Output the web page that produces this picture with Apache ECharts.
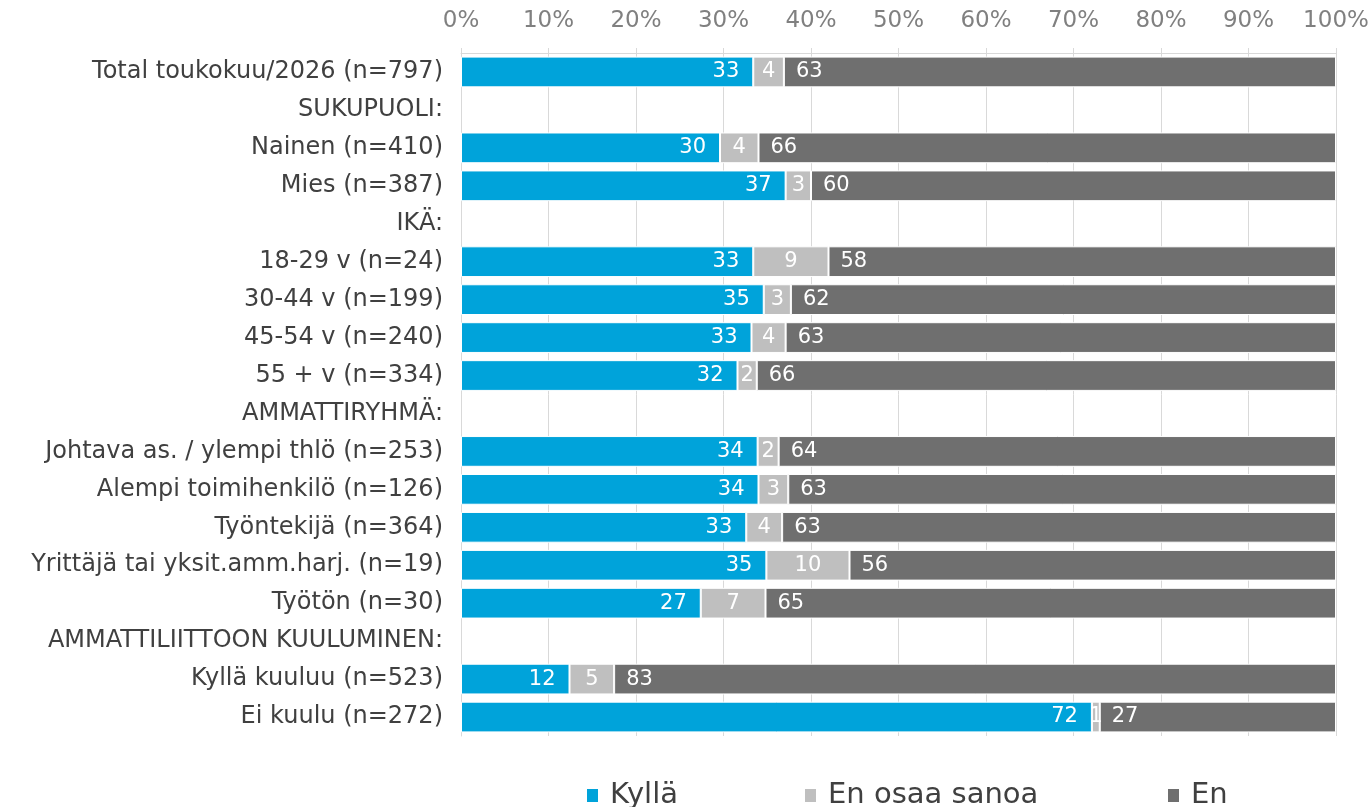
<!DOCTYPE html>
<html>
<head>
<meta charset="utf-8">
<script src="https://cdn.jsdelivr.net/npm/echarts@6/dist/echarts.min.js"></script>
<style>
  html, body { margin: 0; padding: 0; background: #ffffff; }
  #chart { width: 1372px; height: 807px; }
</style>
</head>
<body>
<div id="chart"></div>
<script>
// categories top to bottom (group headers have no bars)
const categories = [
  'Total toukokuu/2026 (n=797)',
  'SUKUPUOLI:',
  'Nainen (n=410)',
  'Mies (n=387)',
  'IKÄ:',
  '18-29 v (n=24)',
  '30-44 v (n=199)',
  '45-54 v (n=240)',
  '55 + v (n=334)',
  'AMMATTIRYHMÄ:',
  'Johtava as. / ylempi thlö (n=253)',
  'Alempi toimihenkilö (n=126)',
  'Työntekijä (n=364)',
  'Yrittäjä tai yksit.amm.harj. (n=19)',
  'Työtön (n=30)',
  'AMMATTILIITTOON KUULUMINEN:',
  'Kyllä kuuluu (n=523)',
  'Ei kuulu (n=272)'
];

// shares in % (labels show them rounded)
const kylla  = [33.4, null, 29.6, 37.1, null, 33.4, 34.6, 33.2, 31.6, null, 33.9, 34.0, 32.6, 34.9, 27.4, null, 12.4, 72.1];
const enOsaa = [3.5,  null, 4.4,  2.9,  null, 8.6,  3.1,  3.9,  2.2,  null, 2.4,  3.4,  4.1,  9.5,  7.4,  null, 5.1,  0.9];
const en     = [63.1, null, 66.0, 60.0, null, 58.0, 62.3, 62.9, 66.2, null, 63.7, 62.6, 63.3, 55.6, 65.2, null, 82.5, 27.0];

const seriesNames = ['Kyllä', 'En osaa sanoa', 'En'];
const colors = ['#00a3da', '#bfbfbf', '#6f6f6f'];

const FONT = "'DejaVu Sans', Verdana, sans-serif";

const chart = echarts.init(document.getElementById('chart'));

function makeSeries(name, data, color, pos, dist) {
  return {
    name: name,
    type: 'bar',
    stack: 'total',
    barWidth: '81%',
    data: data,
    itemStyle: { color: color, borderColor: '#ffffff', borderWidth: 1 },
    label: {
      show: true,
      position: pos,
      distance: dist,
      color: '#ffffff',
      fontFamily: FONT,
      fontSize: 21,
      formatter: p => (p.value == null ? '' : String(Math.round(p.value)))
    }
  };
}

function legendItem(name, left) {
  return {
    data: [name],
    left: left,
    top: 776,
    icon: 'rect',
    itemWidth: 13,
    itemHeight: 15,
    selectedMode: false,
    textStyle: {
      color: '#404040',
      fontFamily: FONT,
      fontSize: 29,
      padding: [0, 0, 0, 6]
    }
  };
}

const option = {
  animation: false,
  backgroundColor: '#ffffff',
  color: colors,
  grid: {
    left: 461,
    right: 36,
    top: 53,
    bottom: 71,
    containLabel: false,
    outerBoundsMode: 'none'
  },
  legend: [
    legendItem(seriesNames[0], 580),
    legendItem(seriesNames[1], 798),
    legendItem(seriesNames[2], 1161)
  ],
  xAxis: {
    type: 'value',
    position: 'top',
    min: 0,
    max: 100,
    interval: 10,
    axisLine: { show: true, lineStyle: { color: '#d9d9d9', width: 1 } },
    axisTick: { show: true, length: 5, lineStyle: { color: '#d9d9d9' } },
    splitLine: { show: true, lineStyle: { color: '#d9d9d9', width: 1 } },
    axisLabel: {
      color: '#808080',
      fontFamily: FONT,
      fontSize: 23,
      margin: 20,
      formatter: '{value}%'
    }
  },
  yAxis: {
    type: 'category',
    inverse: true,
    data: categories,
    axisLine: { show: true, lineStyle: { color: '#d9d9d9', width: 1 } },
    axisTick: { show: false },
    axisLabel: {
      color: '#404040',
      fontFamily: FONT,
      fontSize: 24,
      margin: 18
    }
  },
  series: [
    makeSeries(seriesNames[0], kylla, colors[0], 'insideRight', 14),
    makeSeries(seriesNames[1], enOsaa, colors[1], 'inside', 0),
    makeSeries(seriesNames[2], en, colors[2], 'insideLeft', 12)
  ]
};

chart.setOption(option);
</script>
</body>
</html>
